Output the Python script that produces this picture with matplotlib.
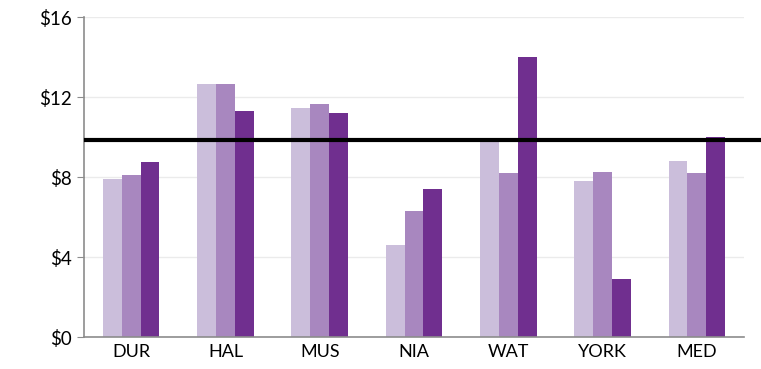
import matplotlib.pyplot as plt
import numpy as np

sites = ["DUR", "HAL", "MUS", "NIA", "WAT", "YORK", "MED"]
series_a = [7.9, 12.67, 11.43, 4.6, 9.8, 7.8, 8.82]
series_b = [8.08, 12.63, 11.67, 6.32, 8.18, 8.23, 8.2]
series_c = [8.75, 11.32, 11.18, 7.38, 13.98, 2.88, 10.0]
benchmark = 9.85
y_ticks = [0, 4, 8, 12, 16]
y_labels = ["$0", "$4", "$8", "$12", "$16"]

colors = ["#CBBEDB", "#A887BF", "#702F8F"]

plt.rcParams["font.family"] = ["Lato", "DejaVu Sans"]

fig = plt.figure(figsize=(7.61, 3.69), dpi=100)
ax = fig.add_axes([0.1104, 0.0867, 0.8673, 0.8672])

x = np.arange(len(sites))
w = 0.2
for i, (vals, c) in enumerate(zip([series_a, series_b, series_c], colors)):
    ax.bar(x + (i - 1) * w, vals, width=w, color=c, zorder=2)

ax.axhline(benchmark, xmin=0.003, xmax=1.03, color="black", lw=3,
           clip_on=False, zorder=3)

ax.set_xlim(-0.5, len(sites) - 0.5)
ax.set_ylim(0, 16)
ax.set_yticks(y_ticks)
ax.set_yticklabels(y_labels, fontsize=13.5)
ax.set_xticks(x)
ax.set_xticklabels(sites, fontsize=13)
ax.yaxis.grid(True, color="#EBEBEB", lw=1, zorder=0)
ax.tick_params(axis="x", length=0, pad=5)
ax.tick_params(axis="y", length=5, color="#8C8C8C", pad=4)

for s in ["top", "right"]:
    ax.spines[s].set_visible(False)
for s in ["left", "bottom"]:
    ax.spines[s].set_color("#8C8C8C")
    ax.spines[s].set_linewidth(1.2)

fig.savefig("out.png", dpi=100)
